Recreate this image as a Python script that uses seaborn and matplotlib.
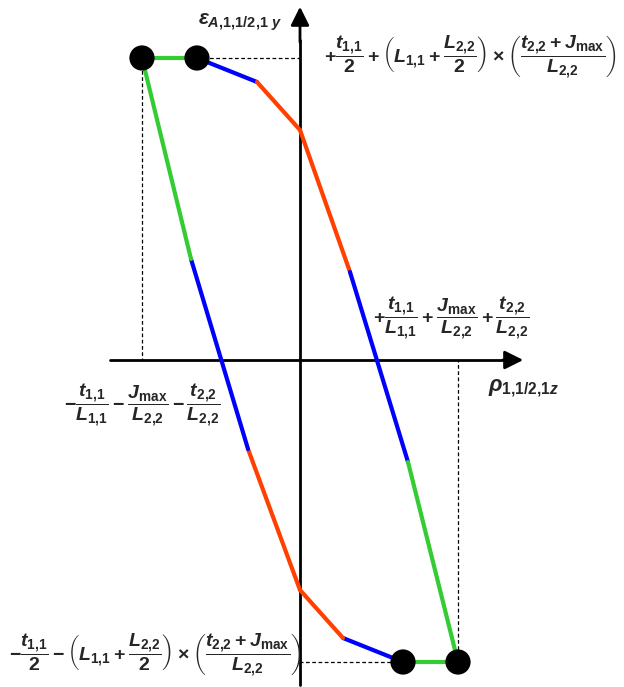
import numpy as np
import pandas as pd
import matplotlib
matplotlib.use("Agg")
import matplotlib.pyplot as plt
import seaborn as sns

# ==========================================
# DATA (origin at axis crossing)
# ==========================================

# vertices of the closed loop
loop_x = [-1.58, -1.03, -0.43, 0.00, 0.50, 1.08, 1.58, 1.03, 0.43, 0.00, -0.52, -1.09, -1.58]
loop_y = [3.02, 3.02, 2.78, 2.30, 0.88, -1.02, -3.02, -3.02, -2.78, -2.30, -0.89, 1.01, 3.02]
# colour of segment i (from vertex i to i+1)
seg_colour = ["green", "blue", "red", "red", "blue", "green",
              "green", "blue", "red", "red", "blue", "green"]

# corner points (black dots)
dot_x = [-1.58, -1.03, 1.03, 1.58]
dot_y = [3.02, 3.02, -3.02, -3.02]

palette = {"green": "#33cc33", "blue": "#0000ff", "red": "#ff4000"}

# ==========================================
# STYLE
# ==========================================

sns.set_style("white")
plt.rcParams["font.family"] = ["Liberation Sans", "DejaVu Sans"]
plt.rcParams["mathtext.fontset"] = "custom"
plt.rcParams["mathtext.rm"] = "Liberation Sans:bold"
plt.rcParams["mathtext.it"] = "Liberation Sans:bold:italic"
plt.rcParams["mathtext.bf"] = "Liberation Sans:bold"
plt.rcParams["mathtext.sf"] = "Liberation Sans:bold"

fig = plt.figure(figsize=(6.24, 6.87), dpi=100)
ax = fig.add_axes([0, 0, 1, 1])

# ==========================================
# DOTTED GUIDES
# ==========================================

guide = dict(color="black", lw=0.9, ls=(0, (3, 2)), zorder=1)
ax.plot([dot_x[0], dot_x[0]], [dot_y[0], 0], **guide)
ax.plot([dot_x[1], 0], [dot_y[1], dot_y[1]], **guide)
ax.plot([dot_x[3], dot_x[3]], [dot_y[3], 0], **guide)
ax.plot([dot_x[2], 0], [dot_y[2], dot_y[2]], **guide)

# ==========================================
# AXES WITH ARROWS
# ==========================================

ax.plot([-1.90, 2.05], [0, 0], color="black", lw=2, zorder=2)
ax.plot([0, 0], [-3.25, 3.20], color="black", lw=2, zorder=2)
ax.annotate("", xy=(2.26, 0), xytext=(2.0, 0),
            arrowprops=dict(arrowstyle="-|>", color="black", lw=2, mutation_scale=28))
ax.annotate("", xy=(0, 3.56), xytext=(0, 3.15),
            arrowprops=dict(arrowstyle="-|>", color="black", lw=2, mutation_scale=28))

# ==========================================
# LOOP SEGMENTS + CORNER DOTS
# ==========================================

for i, c in enumerate(seg_colour):
    seg = pd.DataFrame({"x": loop_x[i:i + 2], "y": loop_y[i:i + 2]})
    sns.lineplot(data=seg, x="x", y="y", sort=False, color=palette[c],
                 lw=3, ax=ax, zorder=3)

sns.scatterplot(x=dot_x, y=dot_y, color="black", s=330, edgecolor="none",
                ax=ax, zorder=4)

ax.set_xlim(-3.0, 3.24)
ax.set_ylim(-3.27, 3.60)
ax.axis("off")

# ==========================================
# LABELS
# ==========================================

ax.text(-0.60, 3.38, r"$\epsilon_{A{,}1{,}1/2{,}1\ y}$", fontsize=15, ha="center", va="center")
ax.text(2.24, -0.28, r"$\rho_{1{,}1/2{,}1z}$", fontsize=16, ha="center", va="center")

ax.text(1.70, 3.03,
        r"$+\dfrac{t_{1{,}1}}{2}+\left(L_{1{,}1}+\dfrac{L_{2{,}2}}{2}\right)\times"
        r"\left(\dfrac{t_{2{,}2}+J_{\mathrm{max}}}{L_{2{,}2}}\right)$",
        fontsize=14, ha="center", va="center")
ax.text(1.51, 0.42,
        r"$+\dfrac{t_{1{,}1}}{L_{1{,}1}}+\dfrac{J_{\mathrm{max}}}{L_{2{,}2}}+\dfrac{t_{2{,}2}}{L_{2{,}2}}$",
        fontsize=14, ha="center", va="center")
ax.text(-1.58, -0.45,
        r"$-\dfrac{t_{1{,}1}}{L_{1{,}1}}-\dfrac{J_{\mathrm{max}}}{L_{2{,}2}}-\dfrac{t_{2{,}2}}{L_{2{,}2}}$",
        fontsize=14, ha="center", va="center")
ax.text(-1.45, -2.95,
        r"$-\dfrac{t_{1{,}1}}{2}-\left(L_{1{,}1}+\dfrac{L_{2{,}2}}{2}\right)\times"
        r"\left(\dfrac{t_{2{,}2}+J_{\mathrm{max}}}{L_{2{,}2}}\right)$",
        fontsize=14, ha="center", va="center")

plt.savefig("out.png", dpi=100)
